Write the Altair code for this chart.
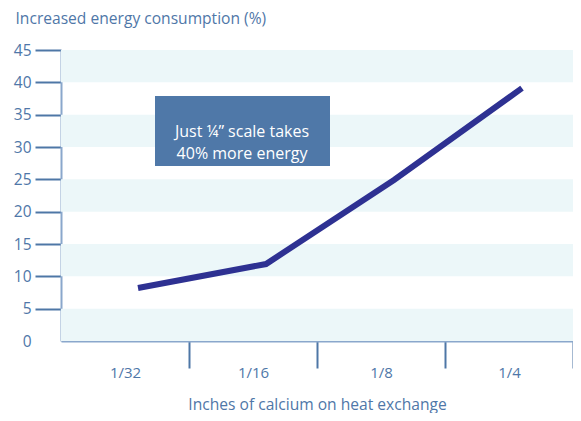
import altair as alt
import pandas as pd

categories = ["1/32", "1/16", "1/8", "1/4"]
values = [8.2, 11.9, 24.9, 39.1]
band_lo = [0, 10, 20, 30, 40]
band_hi = [5, 15, 25, 35, 45]
y_ticks = [0, 5, 10, 15, 20, 25, 30, 35, 40, 45]
note_lines = ["Just ¼” scale takes", "40% more energy"]

W, H = 512, 291
AX = "#4e77a6"
DOM = "#8aa7cc"
TXT = "#4f77a8"
FONT = "Open Sans"

line_df = pd.DataFrame({"cat": categories, "val": values})
band_df = pd.DataFrame({"lo": band_lo, "hi": band_hi})
note_df = pd.DataFrame({"t": ["\n".join(note_lines)]})

xscale = alt.Scale(domain=categories, paddingInner=0, paddingOuter=0)
yscale = alt.Scale(domain=[0, 45], nice=False)

yaxis = alt.Axis(
    values=y_ticks, grid=False,
    title="Increased energy consumption (%)",
    tickSize=26, tickWidth=2, tickColor=AX,
    tickOpacity={"condition": {"test": "datum.value === 0", "value": 0}, "value": 1},
    domainColor=DOM, domainWidth=2,
    labelPadding=4, labelFont=FONT, labelFontSize=15.5, labelColor=TXT,
    titleFont=FONT, titleFontSize=15.6, titleFontWeight="normal",
    titleColor=TXT, titleAngle=0, titleAlign="left", titleBaseline="middle",
    titleX=-46, titleY=-32,
)

bands = alt.Chart(band_df).mark_rect(color="#ecf7f9").encode(
    x=alt.value(0), x2=alt.value(W),
    y=alt.Y("lo:Q", scale=yscale, axis=yaxis), y2="hi:Q",
)

line = alt.Chart(line_df).mark_line(color="#2e3192", strokeWidth=6, xOffset=13).encode(
    x=alt.X(
        "cat:N", scale=xscale, sort=categories,
        axis=alt.Axis(
            title="Inches of calcium on heat exchange",
            tickBand="extent", tickSize=27, tickWidth=2, tickColor=AX,
            tickOpacity={"condition": {"test": "datum.value == null", "value": 0}, "value": 1},
            domainColor=DOM, domainWidth=2,
            labelAngle=0, labelPadding=-3, labelFont=FONT, labelFontSize=15,
            labelColor=TXT,
            titleFont=FONT, titleFontSize=15.6, titleFontWeight="normal",
            titleColor=TXT, titleY=63, titleBaseline="middle",
            titleAnchor="middle", titleAlign="center",
        ),
    ),
    y=alt.Y("val:Q", scale=yscale, axis=yaxis),
)

box = alt.Chart(pd.DataFrame({"a": [0]})).mark_rect(color="#4f78a8").encode(
    x=alt.value(94), x2=alt.value(269), y=alt.value(46), y2=alt.value(116),
)

note = alt.Chart(note_df).mark_text(
    color="white", font=FONT, fontSize=16, align="center", baseline="middle",
    lineBreak="\n", lineHeight=22,
).encode(
    x=alt.value(181),
    y=alt.value(82),
    text="t:N",
)

chart = alt.layer(bands, line, box, note).properties(
    width=W, height=H,
    autosize=alt.AutoSizeParams(type="none"),
    padding={"left": 53, "top": 42, "right": 0, "bottom": 72},
).configure_view(stroke=None)

chart.save("out.html", embed_options={"renderer": "svg", "actions": False})
